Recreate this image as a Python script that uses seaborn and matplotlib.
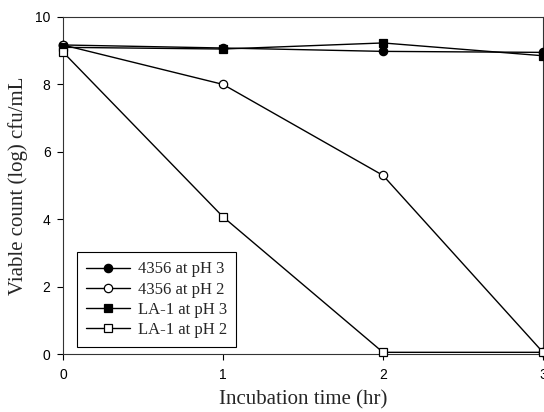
import matplotlib
matplotlib.use("Agg")
import matplotlib.pyplot as plt
import seaborn as sns
import pandas as pd

hours = [0, 1, 2, 3]
s4356_ph3 = [9.17, 9.08, 8.98, 8.95]
s4356_ph2 = [9.17, 8.0, 5.3, 0.05]
la1_ph3 = [9.1, 9.05, 9.23, 8.85]
la1_ph2 = [8.96, 4.07, 0.05, 0.05]
labels = ["4356 at pH 3", "4356 at pH 2", "LA-1 at pH 3", "LA-1 at pH 2"]
series = [s4356_ph3, s4356_ph2, la1_ph3, la1_ph2]

rows = []
for lab, vals in zip(labels, series):
    for h, v in zip(hours, vals):
        rows.append({"time": h, "count": v, "series": lab})
df = pd.DataFrame(rows)

sns.set_style("white")
plt.rcParams["font.family"] = ["Liberation Sans", "DejaVu Sans"]

fig = plt.figure(figsize=(5.44, 4.12), dpi=100)
ax = fig.add_axes([63/544, 1-354/412, 480/544, 337/412])

styles = {
    "4356 at pH 3": dict(marker="o", mfc="black"),
    "4356 at pH 2": dict(marker="o", mfc="white"),
    "LA-1 at pH 3": dict(marker="s", mfc="black"),
    "LA-1 at pH 2": dict(marker="s", mfc="white"),
}
for lab in labels:
    st = styles[lab]
    sns.lineplot(data=df[df["series"] == lab], x="time", y="count", ax=ax,
                 color="black", linewidth=1.0, marker=st["marker"],
                 markerfacecolor=st["mfc"], markeredgecolor="black",
                 markeredgewidth=0.9, markersize=6, label=lab,
                 clip_on=False, zorder=3)

ax.set_xlim(0, 3)
ax.set_ylim(0, 10)
ax.set_xticks([0, 1, 2, 3])
ax.set_yticks([0, 2, 4, 6, 8, 10])
ax.tick_params(axis="both", direction="out", length=4, width=0.8,
               labelsize=10, colors="black", bottom=True, left=True,
               top=False, right=False)
ax.tick_params(axis="x", pad=6)
ax.tick_params(axis="y", pad=5)
for sp in ax.spines.values():
    sp.set_color("#333333")
    sp.set_linewidth(0.8)

serif = ["Liberation Serif", "DejaVu Serif"]
ax.set_xlabel("Incubation time (hr)", fontsize=15, family=serif, labelpad=6)
ax.set_ylabel("Viable count (log) cfu/mL", fontsize=15, family=serif, labelpad=5)

leg = ax.legend(loc="lower left", bbox_to_anchor=(14/480, 7/337), frameon=True,
                fancybox=False, edgecolor="black", framealpha=1,
                prop={"family": serif, "size": 12}, handlelength=2.6,
                handletextpad=0.5, labelspacing=0.25, borderpad=0.55,
                borderaxespad=0)
leg.get_frame().set_linewidth(0.8)

fig.savefig("out.png", dpi=100)
